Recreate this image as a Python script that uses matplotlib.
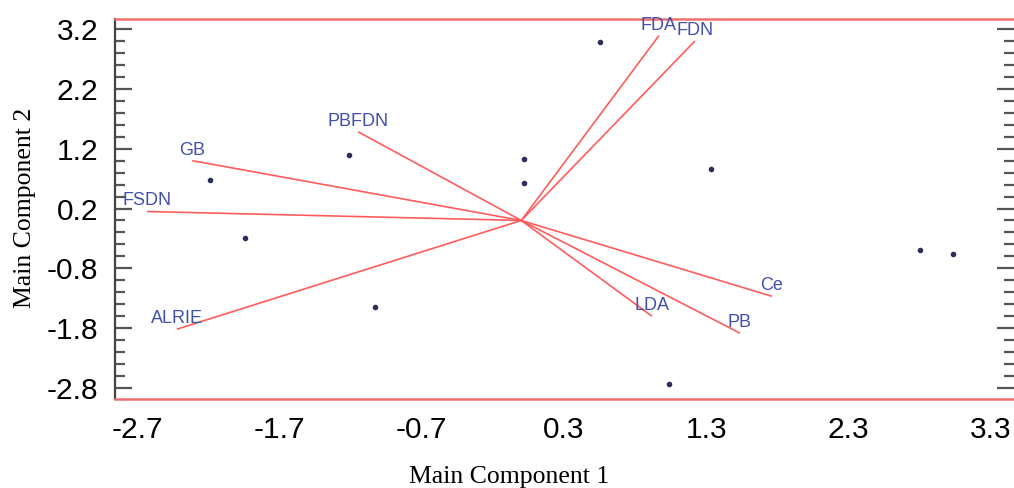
import matplotlib
matplotlib.use('Agg')
from matplotlib import pyplot as plt
from matplotlib.ticker import FixedLocator
import numpy as np

# variable loadings (vector end points) on components 1 and 2
var_names = ['FDA', 'FDN', 'PBFDN', 'GB', 'FSDN', 'ALRIE', 'Ce', 'LDA', 'PB']
load_x = [0.968, 1.221, -1.147, -2.313, -2.630, -2.420, 1.762, 0.919, 1.537]
load_y = [3.090, 3.000, 1.483, 1.000, 0.150, -1.817, -1.267, -1.600, -1.883]

# observation scores
score_x = [0.554, 1.334, -1.210, -2.187, -1.941, -1.028, 0.020, 0.020, 2.802, 3.032, 1.039]
score_y = [2.983, 0.867, 1.090, 0.683, -0.300, -1.445, 1.033, 0.633, -0.495, -0.567, -2.738]

x_ticks = [-2.7, -1.7, -0.7, 0.3, 1.3, 2.3, 3.3]
y_ticks = [-2.8, -1.8, -0.8, 0.2, 1.2, 2.2, 3.2]

fig = plt.figure(figsize=(10.14, 4.88), dpi=100)
ax = fig.add_axes([0.1134, 0.1824, 0.8866, 0.7787])

# vectors from the origin
for name, vx, vy in zip(var_names, load_x, load_y):
    ax.plot([0, vx], [0, vy], color='#ff5c5c', linewidth=1.2, solid_capstyle='butt', zorder=2)
    ax.annotate(name, (vx, vy), xytext=(0, 10.5), textcoords='offset pixels',
                ha='center', va='center', fontsize=13, color='#4150ad',
                family='Liberation Sans', zorder=4)

ax.plot(score_x, score_y, 'o', color='#2b2d5a', markersize=3, zorder=3)

ax.set_xlim(-2.855, 3.463)
ax.set_ylim(-2.983, 3.367)

ax.xaxis.set_major_locator(FixedLocator(x_ticks))
ax.yaxis.set_major_locator(FixedLocator(y_ticks))
ax.yaxis.set_minor_locator(FixedLocator(
    [v for v in np.round(np.arange(-2.8, 3.21, 0.2), 2) if v not in y_ticks]))
ax.set_xticklabels([f'{v:.1f}' for v in x_ticks])
ax.set_yticklabels([f'{v:.1f}' for v in y_ticks])

ax.tick_params(axis='x', length=0, pad=12, labelsize=21.5)
ax.tick_params(axis='y', which='major', direction='in', length=12.2, width=1.6,
               color='#555555', left=True, right=True, pad=12, labelsize=21.5)
ax.tick_params(axis='y', which='minor', direction='in', length=7.2, width=1.6,
               color='#555555', left=True, right=True)
for lab in ax.get_xticklabels() + ax.get_yticklabels():
    lab.set_family('Liberation Sans')

for side in ['top', 'bottom']:
    ax.spines[side].set_color('#f07070')
    ax.spines[side].set_linewidth(1.8)
ax.spines['left'].set_color('#444444')
ax.spines['left'].set_linewidth(1.6)
ax.spines['right'].set_visible(False)

fig.text(0.502, 0.022, 'Main Component 1', ha='center', va='center',
         fontsize=18.5, family='Liberation Serif')
fig.text(0.025, 0.575, 'Main Component 2', ha='center', va='center', rotation=90,
         fontsize=18.5, family='Liberation Serif')

fig.savefig('out.png', dpi=100)
